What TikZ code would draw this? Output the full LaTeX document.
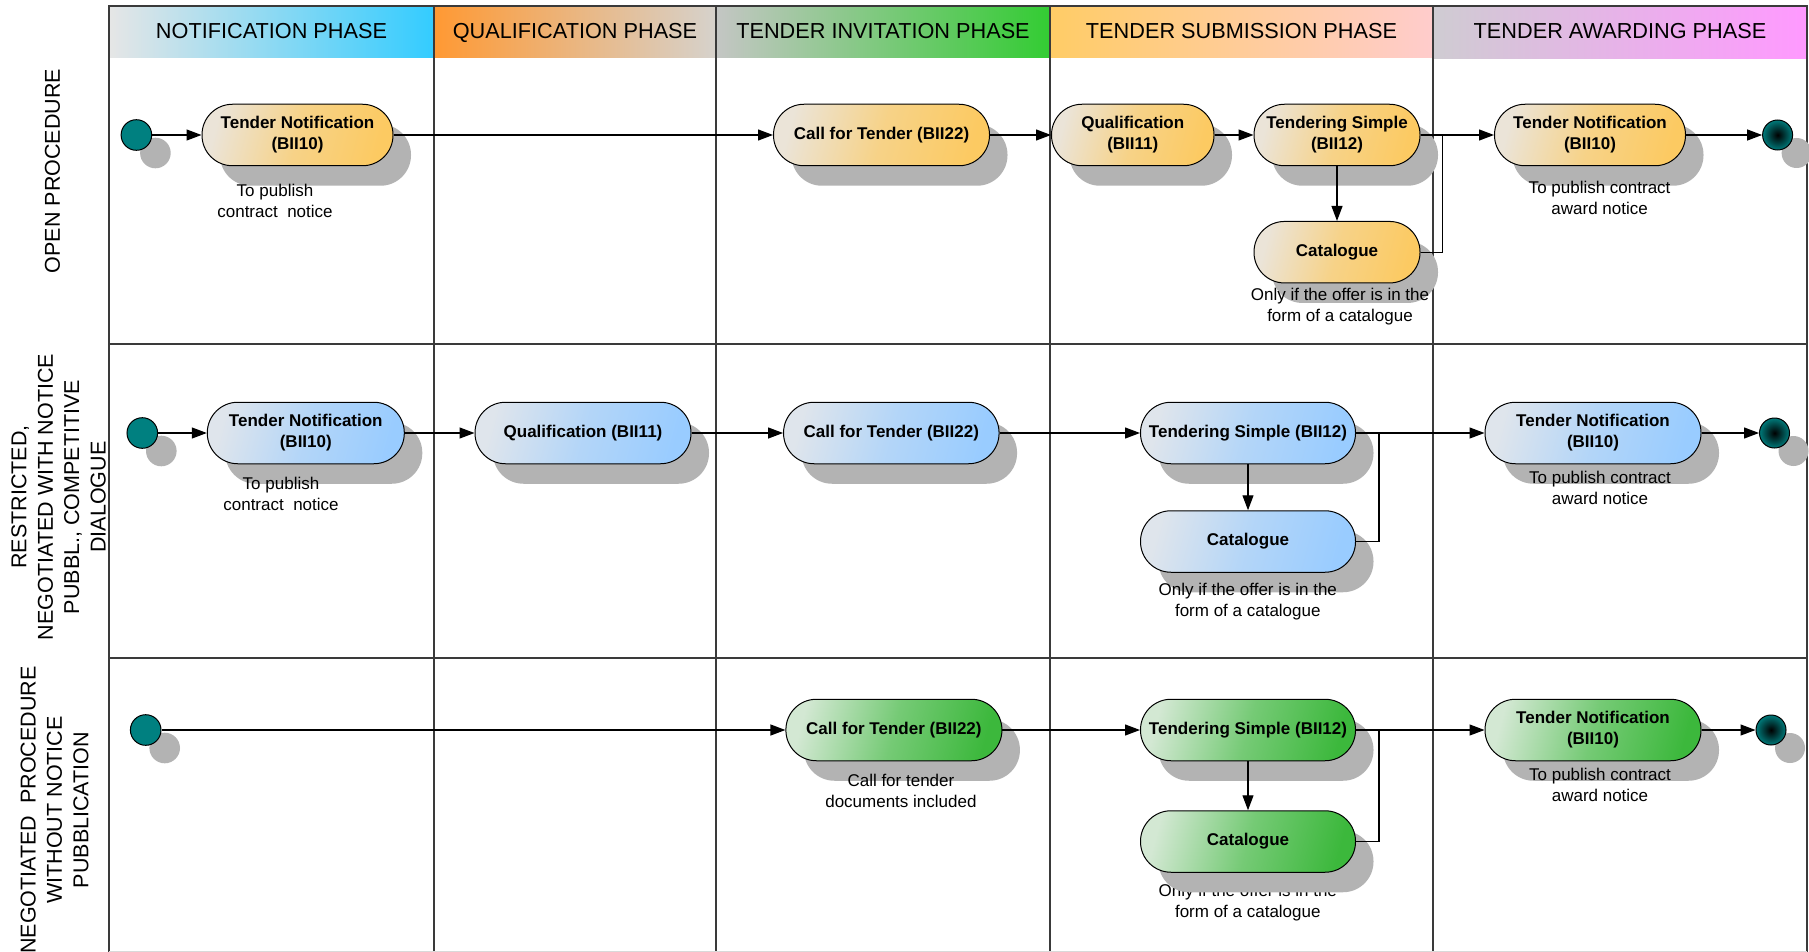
\documentclass[tikz,border=0pt]{standalone}
\usepackage{fontspec}
\setmainfont{Liberation Sans}
\usetikzlibrary{arrows.meta,shadows}

\definecolor{laneline}{HTML}{3A3A3A}
\definecolor{shadowgray}{HTML}{B3B3B3}
\definecolor{startteal}{HTML}{008080}
\definecolor{endteal}{HTML}{007A7A}
\definecolor{orangeL}{HTML}{EBE4D8}
\definecolor{orangeR}{HTML}{FCCA62}
\definecolor{blueL}{HTML}{DFE5EC}
\definecolor{blueR}{HTML}{99CCFF}
\definecolor{greenL}{HTML}{D3E8D3}
\definecolor{greenR}{HTML}{3CB83C}
\definecolor{hdrAl}{HTML}{E6E6E6}\definecolor{hdrAr}{HTML}{33CCFF}
\definecolor{hdrBl}{HTML}{FF9933}\definecolor{hdrBr}{HTML}{D6D2CC}
\definecolor{hdrCl}{HTML}{C4C6C4}\definecolor{hdrCr}{HTML}{33CC33}
\definecolor{hdrDl}{HTML}{FFCC66}\definecolor{hdrDr}{HTML}{FFCCCC}
\definecolor{hdrEl}{HTML}{CFCCD2}\definecolor{hdrEr}{HTML}{FF99FF}

\tikzset{
  activity/.style={draw=black, line width=1pt, rounded corners=30.5pt,
    minimum height=61.5pt, inner sep=0pt, align=center,
    font=\fontsize{17}{21}\selectfont\bfseries,
    general shadow={shadow xshift=18pt, shadow yshift=-20pt, fill=shadowgray}},
  actorange/.style={activity, left color=orangeL, right color=orangeR,
    middle color=orangeR!68!orangeL, shading angle=75},
  actblue/.style={activity, left color=blueL, right color=blueR,
    middle color=blueR!62!blueL, shading angle=75},
  actgreen/.style={activity, left color=greenL, right color=greenR,
    middle color=greenR!62!greenL, shading angle=75},
  startnode/.style={circle, draw=black, line width=1pt, fill=startteal,
    minimum size=30.6pt, inner sep=0pt,
    general shadow={shadow xshift=19pt, shadow yshift=-18pt, fill=shadowgray}},
  endnode/.style={circle, draw=black, line width=1pt, inner color=black,
    outer color=endteal, minimum size=30pt, inner sep=0pt,
    general shadow={shadow xshift=19pt, shadow yshift=-18pt, fill=shadowgray}},
  note/.style={align=center, inner sep=0pt, font=\fontsize{17}{21}\selectfont},
  phase/.style={inner sep=0pt, text height=15.6pt, text depth=0pt,
    font=\fontsize{21.7}{26}\selectfont},
  lanelabel/.style={rotate=90, align=center, inner sep=0pt,
    font=\fontsize{21.5}{26.4}\selectfont},
  grid/.style={draw=laneline, line width=2pt},
  conn/.style={draw=black, line width=1.2pt},
  connarrow/.style={conn, -{Triangle[length=15pt,width=11pt]}}
}

\begin{document}
\begin{tikzpicture}[x=1pt,y=-1pt]
\useasboundingbox (0,0) rectangle (1809,952);
\fill[white] (0,0) rectangle (1809,952);

% phase header bands
\shade[left color=hdrAl, right color=hdrAr] (109,6) rectangle (434,58);
\shade[left color=hdrBl, right color=hdrBr] (434,6) rectangle (716,58);
\shade[left color=hdrCl, right color=hdrCr] (716,6) rectangle (1050,58);
\shade[left color=hdrDl, right color=hdrDr] (1050,6) rectangle (1433,58);
\shade[left color=hdrEl, right color=hdrEr] (1433,6) rectangle (1807,59);

% swimlane grid
\draw[grid] (109,952) -- (109,6) -- (1807,6) -- (1807,952);
\foreach \cx in {434,716,1050,1433} \draw[grid] (\cx,6) -- (\cx,952);
\draw[grid] (109,344) -- (1807,344);
\draw[grid] (109,657.5) -- (1807,657.5);
\draw[draw=black!15, line width=1pt] (109,951.5) -- (1807,951.5);

% phase titles
\node[phase] (ph1) at (271.5,31) {NOTIFICATION PHASE};
\node[phase] (ph2) at (575,31) {QUALIFICATION PHASE};
\node[phase] (ph3) at (883,31) {TENDER INVITATION PHASE};
\node[phase] (ph4) at (1241.5,31) {TENDER SUBMISSION PHASE};
\node[phase] (ph5) at (1620,31) {TENDER AWARDING PHASE};

% lane titles
\node[lanelabel] (lane1) at (52.4,171) {OPEN PROCEDURE};
\node[lanelabel] (lane2) at (58.6,497) {RESTRICTED,\\NEGOTIATED WITH NOTICE\\PUBBL., COMPETITIVE\\DIALOGUE};
\node[lanelabel] (lane3) at (54.5,810) {NEGOTIATED~ PROCEDURE\\WITHOUT NOTICE\\PUBBLICATION};

% this note sits beneath the catalogue shadow of the third lane
\node[note] (n3b) at (1247.8,902.3) {Only if the offer is in the\\form of a catalogue};

% ---- lane 1: open procedure
\node[startnode] (s1) at (136.4,135) {};
\node[actorange, minimum width=191pt] (tn1) at (297.5,135) {Tender Notification\\(BII10)};
\node[actorange, minimum width=216pt] (cft1) at (881.5,135) {Call for Tender (BII22)};
\node[actorange, minimum width=162.5pt] (q1) at (1132.75,135) {Qualification\\(BII11)};
\node[actorange, minimum width=166pt] (ts1) at (1337,135) {Tendering Simple\\(BII12)};
\node[actorange, minimum width=166pt] (cat1) at (1337,252.2) {Catalogue};
\node[actorange, minimum width=191pt] (tna1) at (1590,135) {Tender Notification\\(BII10)};
\node[endnode] (e1) at (1777.6,135) {};
\coordinate (j1) at (1442.7,135);

% ---- lane 2: restricted / negotiated with notice / competitive dialogue
\node[startnode] (s2) at (142.3,433) {};
\node[actblue, minimum width=197pt] (tn2) at (305.8,433) {Tender Notification\\(BII10)};
\node[actblue, minimum width=216pt] (q2) at (583,433) {Qualification (BII11)};
\node[actblue, minimum width=215.5pt] (cft2) at (891.3,433) {Call for Tender (BII22)};
\node[actblue, minimum width=215pt] (ts2) at (1248,433) {Tendering Simple (BII12)};
\node[actblue, minimum width=215pt] (cat2) at (1248,541.5) {Catalogue};
\node[actblue, minimum width=216pt] (tna2) at (1593,433) {Tender Notification\\(BII10)};
\node[endnode] (e2) at (1774.5,433) {};
\coordinate (j2) at (1379,433);

% ---- lane 3: negotiated without notice publication
\node[startnode] (s3) at (145.7,730) {};
\node[actgreen, minimum width=216pt] (cft3) at (893.9,730) {Call for Tender (BII22)};
\node[actgreen, minimum width=215pt] (ts3) at (1248,730) {Tendering Simple (BII12)};
\node[actgreen, minimum width=215pt] (cat3) at (1248,841.5) {Catalogue};
\node[actgreen, minimum width=216pt] (tna3) at (1593,730) {Tender Notification\\(BII10)};
\node[endnode] (e3) at (1771,730) {};
\coordinate (j3) at (1379,730);

% connectors, lane 1
\draw[connarrow] (s1) -- (tn1);
\draw[connarrow] (tn1) -- (cft1);
\draw[connarrow] (cft1) -- (q1);
\draw[connarrow] (q1) -- (ts1);
\draw[connarrow] (ts1) -- (tna1);
\draw[connarrow] (ts1) -- (cat1);
\draw[conn] (cat1.east) -| (j1);
\draw[connarrow] (tna1) -- (e1);

% connectors, lane 2
\draw[connarrow] (s2) -- (tn2);
\draw[connarrow] (tn2) -- (q2);
\draw[connarrow] (q2) -- (cft2);
\draw[connarrow] (cft2) -- (ts2);
\draw[connarrow] (ts2) -- (tna2);
\draw[connarrow] (ts2) -- (cat2);
\draw[conn] (cat2.east) -| (j2);
\draw[connarrow] (tna2) -- (e2);

% connectors, lane 3
\draw[connarrow] (s3) -- (cft3);
\draw[connarrow] (cft3) -- (ts3);
\draw[connarrow] (ts3) -- (tna3);
\draw[connarrow] (ts3) -- (cat3);
\draw[conn] (cat3.east) -| (j3);
\draw[connarrow] (tna3) -- (e3);

% notes
\node[note] (n1a) at (275,201) {To publish\\contract~ notice};
\node[note] (n1b) at (1340,306.7) {Only if the offer is in the\\form of a catalogue};
\node[note] (n1c) at (1599.6,197.7) {To publish contract\\award notice};
\node[note] (n2a) at (281,493.7) {To publish\\contract~ notice};
\node[note] (n2b) at (1247.8,601.2) {Only if the offer is in the\\form of a catalogue};
\node[note] (n2c) at (1600,487.7) {To publish contract\\award notice};
\node[note] (n3a) at (900.9,791.3) {Call for tender\\documents included};
\node[note] (n3c) at (1600,784.5) {To publish contract\\award notice};
\end{tikzpicture}
\end{document}
